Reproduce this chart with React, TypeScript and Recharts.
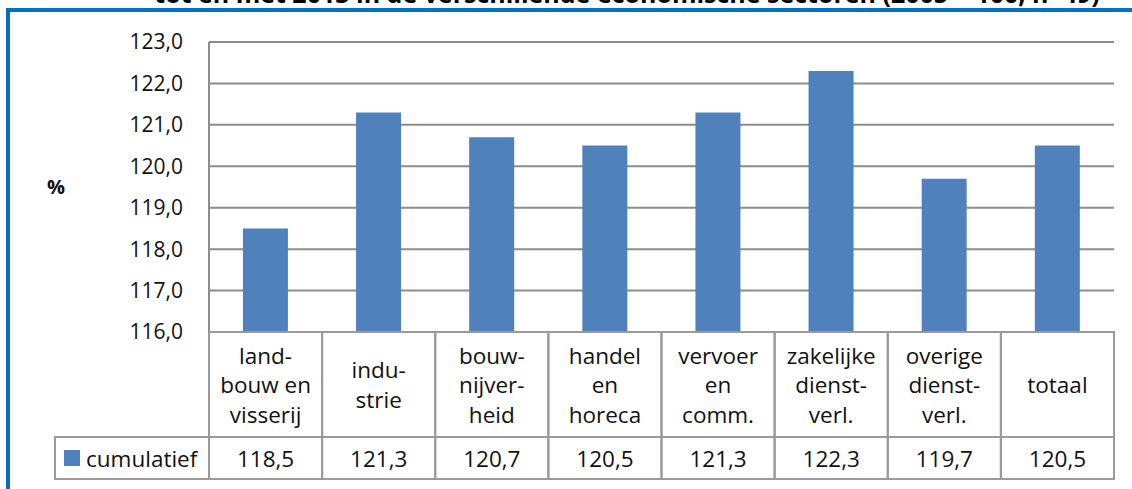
import { BarChart, Bar, XAxis, YAxis, CartesianGrid } from "recharts";

// sectors, with line breaks as in the data table
const categories = [
  "land-\nbouw en\nvisserij",
  "indu-\nstrie",
  "bouw-\nnijver-\nheid",
  "handel\nen\nhoreca",
  "vervoer\nen\ncomm.",
  "zakelijke\ndienst-\nverl.",
  "overige\ndienst-\nverl.",
  "totaal",
];
const cumulatief = [118.5, 121.3, 120.7, 120.5, 121.3, 122.3, 119.7, 120.5];
const yTicks = [116, 117, 118, 119, 120, 121, 122, 123];
const seriesName = "cumulatief";
const titleText =
  "tot en met 2013 in de verschillende economische sectoren (2005 = 100; n=49)";

const data = categories.map((c, i) => ({ name: c, cumulatief: cumulatief[i] }));

const W = 1132;
const H = 489;
const AXIS_W = 209;
const RIGHT = 18;
const BAND = (W - AXIS_W - RIGHT) / categories.length;
const ROW1 = 105;
const ROW2 = 42;
const LEGEND_W = 154;
const GRID = "#8c8c8c";
const TABLE = "#9a9a9a";
const BLUE = "#4F81BD";
const FONT = "'Open Sans', 'Noto Sans', sans-serif";
const CELL_FONT = 22.5;

const fmt = (v: number) => v.toFixed(1).replace(".", ",");

const TableTick = (props: any) => {
  const { x, y, index } = props;
  const lines = categories[index].split("\n");
  const left = x - BAND / 2;
  const lineH = 29.5;
  const mid = y + ROW1 / 2;
  const start = mid - ((lines.length - 1) * lineH) / 2;
  return (
    <g>
      <rect x={left} y={y} width={BAND} height={ROW1} fill="none" stroke={TABLE} strokeWidth={2} />
      <rect x={left} y={y + ROW1} width={BAND} height={ROW2} fill="none" stroke={TABLE} strokeWidth={2} />
      <text textAnchor="middle" fontSize={CELL_FONT} fill="#111" fontFamily={FONT}>
        {lines.map((l: string, i: number) => (
          <tspan key={i} x={x} y={start + i * lineH} dominantBaseline="central">
            {l}
          </tspan>
        ))}
      </text>
      <text
        x={x}
        y={y + ROW1 + ROW2 / 2}
        textAnchor="middle"
        dominantBaseline="central"
        fontSize={CELL_FONT}
        fill="#111"
        fontFamily={FONT}
      >
        {fmt(cumulatief[index])}
      </text>
      {index === 0 && (
        <g>
          <rect x={left - LEGEND_W} y={y + ROW1} width={LEGEND_W} height={ROW2} fill="none" stroke={TABLE} strokeWidth={2} />
          <rect x={left - LEGEND_W + 9} y={y + ROW1 + 13} width={16} height={16} fill={BLUE} />
          <text
            x={left - LEGEND_W + 31}
            y={y + ROW1 + ROW2 / 2}
            dominantBaseline="central"
            fontSize={CELL_FONT}
            fill="#111"
            fontFamily={FONT}
          >
            {seriesName}
          </text>
        </g>
      )}
    </g>
  );
};

export default function App() {
  return (
    <div
      style={{
        position: "absolute",
        left: 0,
        top: 0,
        width: W,
        height: H,
        overflow: "hidden",
        background: "#fff",
        fontFamily: FONT,
      }}
    >
      <div
        style={{
          position: "absolute",
          left: 0,
          top: -21,
          width: 1254,
          textAlign: "center",
          fontWeight: 700,
          fontSize: 25,
          lineHeight: "28px",
          color: "#000",
          whiteSpace: "nowrap",
        }}
      >
        {titleText}
      </div>
      <div
        style={{
          position: "absolute",
          left: 6,
          top: 8,
          width: 1300,
          height: 700,
          border: "4px solid #0070C0",
        }}
      />
      <div style={{ position: "absolute", left: 0, top: 0 }}>
        <BarChart
          width={W}
          height={H}
          data={data}
          margin={{ top: 42, right: RIGHT, bottom: 10, left: 0 }}
          barCategoryGap="30%"
        >
          <CartesianGrid vertical={false} stroke={GRID} strokeWidth={2} />
          <YAxis
            width={AXIS_W}
            domain={[116, 123]}
            ticks={yTicks}
            allowDataOverflow
            tickLine={false}
            tickSize={0}
            tickMargin={26}
            axisLine={{ stroke: GRID, strokeWidth: 2 }}
            tickFormatter={fmt}
            tick={{ fontSize: 21, fill: "#111", fontFamily: FONT }}
            label={{
              value: "%",
              position: "insideLeft",
              offset: 47,
              fontSize: 20,
              fontWeight: 700,
              fill: "#111",
              fontFamily: FONT,
            }}
          />
          <XAxis
            dataKey="name"
            height={ROW1 + ROW2}
            interval={0}
            tickLine={false}
            tickSize={0}
            tickMargin={0}
            axisLine={false}
            tick={<TableTick />}
          />
          <Bar dataKey="cumulatief" fill={BLUE} isAnimationActive={false} />
        </BarChart>
      </div>
    </div>
  );
}
